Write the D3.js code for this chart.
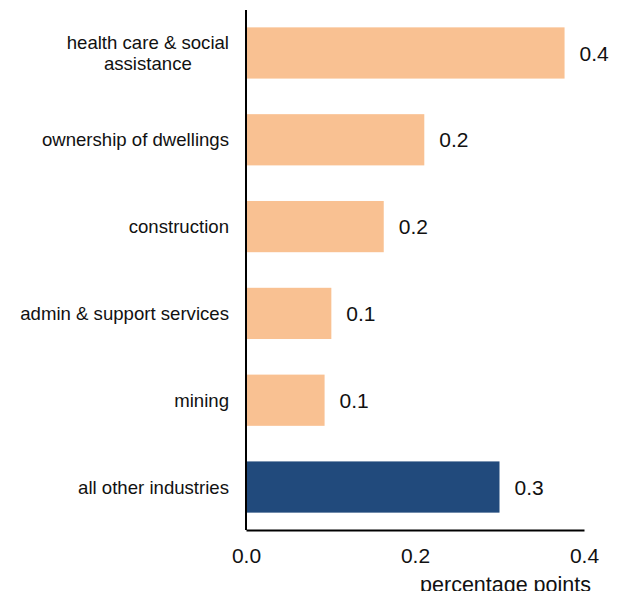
<!DOCTYPE html>
<html>
<head>
<meta charset="utf-8">
<script src="https://cdn.jsdelivr.net/npm/d3@7"></script>
<style>
  body { margin: 0; background: #fff; }
  svg { display: block; font-family: "Liberation Sans", Arial, sans-serif; }
</style>
</head>
<body>
<div id="chart"></div>
<script>
// categories (top to bottom), multi-line labels split by "|"
var industries = ["health care & social|assistance", "ownership of dwellings", "construction",
                  "admin & support services", "mining", "all other industries"];
var contributions = [0.377, 0.211, 0.163, 0.101, 0.093, 0.300];
var valueLabels = ["0.4", "0.2", "0.2", "0.1", "0.1", "0.3"];
var highlight = [false, false, false, false, false, true];
var xTicks = [0, 0.2, 0.4];

var width = 623, height = 591;
var margin = {top: 10, left: 246, right: 39, bottom: 61};

var svg = d3.select("#chart").append("svg")
  .attr("width", width)
  .attr("height", height);

var x = d3.scaleLinear()
  .domain([0, 0.4])
  .range([margin.left, width - margin.right]);

var y = d3.scaleBand()
  .domain(industries)
  .range([margin.top, height - margin.bottom])
  .paddingInner(0.41)
  .paddingOuter(0.2);

var rows = industries.map(function(d, i) {
  return {name: d, value: contributions[i], label: valueLabels[i], hi: highlight[i]};
});

// bars
svg.selectAll("rect.bar")
  .data(rows)
  .enter().append("rect")
    .attr("class", "bar")
    .attr("x", x(0))
    .attr("y", function(d) { return y(d.name); })
    .attr("width", function(d) { return x(d.value) - x(0); })
    .attr("height", y.bandwidth())
    .attr("fill", function(d) { return d.hi ? "#214a7c" : "#f9c192"; });

// value labels
svg.selectAll("text.val")
  .data(rows)
  .enter().append("text")
    .attr("class", "val")
    .attr("x", function(d) { return x(d.value) + 15; })
    .attr("y", function(d) { return y(d.name) + y.bandwidth() / 2; })
    .attr("dy", "0.36em")
    .style("font-size", "21px")
    .attr("fill", "#111")
    .text(function(d) { return d.label; });

// category labels
var cat = svg.selectAll("text.cat")
  .data(rows)
  .enter().append("text")
    .attr("class", "cat")
    .attr("text-anchor", "middle")
    .style("font-size", "18.6px")
    .attr("fill", "#111");

cat.each(function(d) {
  var lines = d.name.split("|");
  var t = d3.select(this);
  var mid = y(d.name) + y.bandwidth() / 2;
  var lh = 21;
  var y0 = mid - (lines.length - 1) * lh / 2;
  t.selectAll("tspan").data(lines).enter().append("tspan")
    .attr("y", function(l, i) { return y0 + i * lh; })
    .attr("dy", "0.35em")
    .text(function(l) { return l; });
  // keep right edge of the widest line at a fixed spot
  var widest = 0;
  t.selectAll("tspan").each(function() {
    widest = Math.max(widest, this.getComputedTextLength());
  });
  t.selectAll("tspan").attr("x", x(0) - 17 - widest / 2);
});

// axes
var xAxis = d3.axisBottom(x).tickValues(xTicks).tickFormat(d3.format(".1f")).tickSize(0).tickPadding(18);
var gx = svg.append("g")
  .attr("transform", "translate(0," + (height - margin.bottom) + ")")
  .call(xAxis);
gx.select(".domain").attr("stroke", "#000").attr("stroke-width", 2);
gx.selectAll("text").style("font-size", "21px").attr("fill", "#111")
  .style("font-family", "'Liberation Sans', Arial, sans-serif");

svg.append("line")
  .attr("x1", x(0)).attr("x2", x(0))
  .attr("y1", margin.top).attr("y2", height - margin.bottom)
  .attr("stroke", "#000")
  .attr("stroke-width", 2);

svg.append("text")
  .attr("x", width - 32)
  .attr("y", height + 1)
  .attr("text-anchor", "end")
  .style("font-size", "21.5px")
  .attr("fill", "#111")
  .text("percentage points");
</script>
</body>
</html>
